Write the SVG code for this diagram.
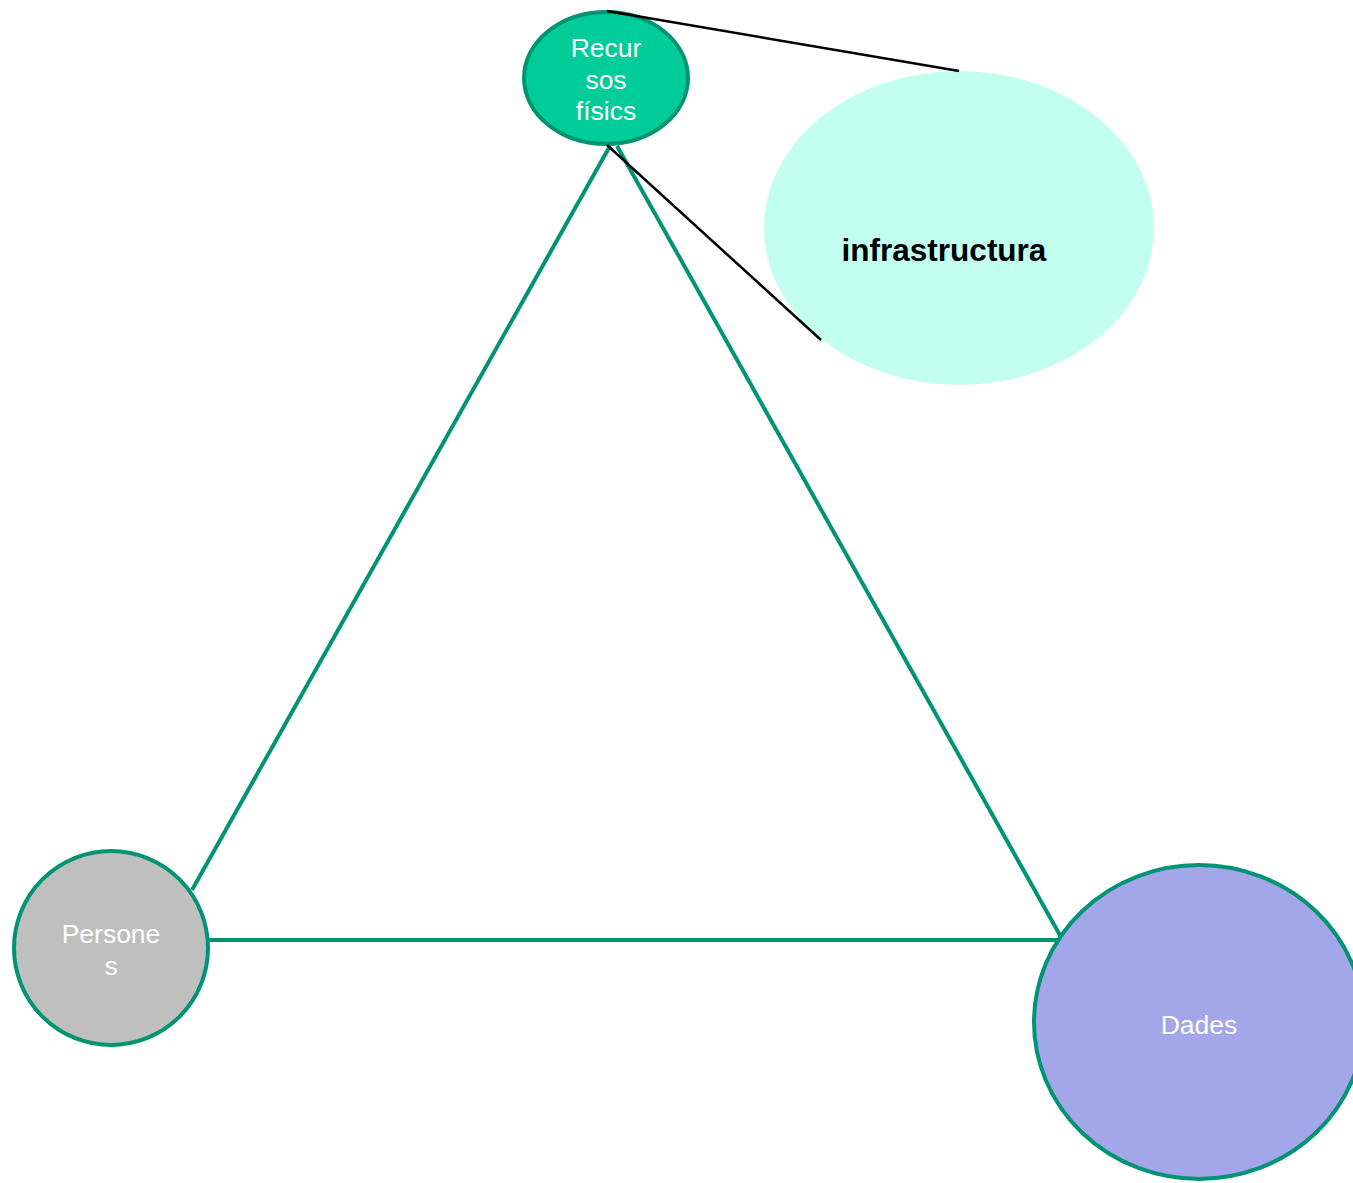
<svg xmlns="http://www.w3.org/2000/svg" width="1353" height="1183" viewBox="0 0 1353 1183">
<style>
.lbl{font-family:"Liberation Sans",Arial,sans-serif;font-size:26.5px;fill:#ffffff;text-anchor:middle}
.gs{stroke:#009473;stroke-width:4;fill:none}
.bk{stroke:#000000;stroke-width:2.5;fill:none}
</style>
<rect width="1353" height="1183" fill="#ffffff"/>
<g id="connectors">
<line class="gs" x1="610" y1="146" x2="192" y2="890"/>
<line class="gs" x1="617" y1="146" x2="1061" y2="937"/>
<line class="gs" x1="209" y1="940" x2="1063" y2="940"/>
</g>
<g id="infra">
<ellipse cx="959" cy="228" rx="195" ry="157" fill="#C3FFEE"/>
<text x="944" y="261" font-family="Liberation Sans,Arial,sans-serif" font-size="31.5" font-weight="bold" text-anchor="middle" fill="#000">infrastructura</text>
</g>
<g id="recursos">
<ellipse cx="606" cy="78" rx="82" ry="66" fill="#00CC99" stroke="#009473" stroke-width="4"/>
<text class="lbl" x="606" y="57">Recur</text>
<text class="lbl" x="606" y="89">sos</text>
<text class="lbl" x="606" y="120">físics</text>
</g>
<g id="persones">
<circle cx="111" cy="948" r="97" fill="#BFBFBF" stroke="#009473" stroke-width="4"/>
<text class="lbl" x="111" y="943">Persone</text>
<text class="lbl" x="111" y="975">s</text>
</g>
<g id="dades">
<ellipse cx="1199" cy="1022" rx="165" ry="157" fill="#A3A6E8" stroke="#009473" stroke-width="4"/>
<text class="lbl" x="1199" y="1034">Dades</text>
</g>
<g id="callout-lines">
<line class="bk" x1="607" y1="11" x2="959" y2="71"/>
<line class="bk" x1="607" y1="145" x2="821" y2="340"/>
</g>
</svg>
